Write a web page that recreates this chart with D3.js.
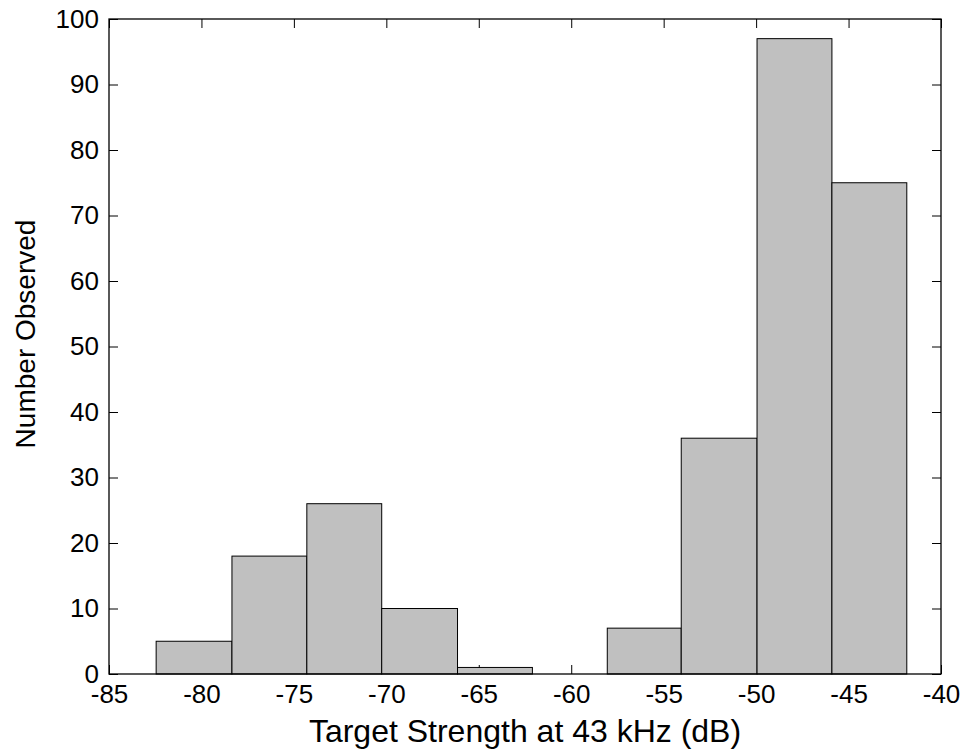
<!DOCTYPE html>
<html>
<head>
<meta charset="utf-8">
<script src="https://cdn.jsdelivr.net/npm/d3@7"></script>
<style>
body { margin: 0; background: #fff; }
text { font-family: Arial, "Liberation Sans", sans-serif; fill: #000; }
</style>
</head>
<body>
<svg id="mainSVG" width="964" height="750"></svg>
<script>
var $svg = d3.select("#mainSVG");

// histogram data
var binEdges = [-82.45, -78.35, -74.3, -70.25, -66.15, -62.1, -58.05, -54.05, -49.95, -45.9, -41.85];
var counts = [5, 18, 26, 10, 1, 0, 7, 36, 97, 75];
var xTicks = [-85, -80, -75, -70, -65, -60, -55, -50, -45, -40];
var yTicks = [0, 10, 20, 30, 40, 50, 60, 70, 80, 90, 100];
var xLabel = 'Target Strength at 43 kHz (dB)';
var yLabel = 'Number Observed';

var box = {left: 109, right: 941, top: 19, bottom: 674};
var tickLen = 9;

var x = d3.scaleLinear().domain([-85, -40]).range([box.left, box.right]);
var y = d3.scaleLinear().domain([0, 100]).range([box.bottom, box.top]);

var bins = counts.map((c,i)=>({x0: binEdges[i], x1: binEdges[i+1], n: c}));

// plain hyphen for negatives, like the original
const fmt = d=>String(d);

// ticks on all four sides, pointing in
var $ax = $svg.append('g').attr('id','axes');

$ax.append('g').attr('transform',`translate(0 ${box.bottom})`)
    .call(d3.axisBottom(x).tickValues(xTicks).tickSize(-tickLen).tickPadding(11).tickFormat(fmt))
    .call(g=>g.select('.domain').remove())
    .call(g=>g.selectAll('text').attr('font-size',26).attr('dy','0.71em'));
$ax.append('g').attr('transform',`translate(0 ${box.top})`)
    .call(d3.axisTop(x).tickValues(xTicks).tickSize(-tickLen).tickFormat(''))
    .call(g=>g.select('.domain').remove());
$ax.append('g').attr('transform',`translate(${box.left} 0)`)
    .call(d3.axisLeft(y).tickValues(yTicks).tickSize(-tickLen).tickPadding(10).tickFormat(fmt))
    .call(g=>g.select('.domain').remove())
    .call(g=>g.selectAll('text').attr('font-size',26));
$ax.append('g').attr('transform',`translate(${box.right} 0)`)
    .call(d3.axisRight(y).tickValues(yTicks).tickSize(-tickLen).tickFormat(''))
    .call(g=>g.select('.domain').remove());

$ax.selectAll('.tick line').attr('stroke','#000').attr('stroke-width',1);
$ax.selectAll('text').attr('font-family','Arial, "Liberation Sans", sans-serif').attr('fill','#000');

// bars
$svg.append('g').attr('id','bars')
    .selectAll('rect').data(bins)
    .enter().append('rect')
    .attr('x',d=>x(d.x0))
    .attr('y',d=>y(d.n))
    .attr('width',d=>x(d.x1)-x(d.x0))
    .attr('height',d=>y(0)-y(d.n))
    .attr('fill','#c0c0c0')
    .attr('stroke','#000')
    .attr('stroke-width',1);

// axes box
$svg.append('rect')
    .attr('x',box.left).attr('y',box.top)
    .attr('width',box.right-box.left).attr('height',box.bottom-box.top)
    .attr('fill','none').attr('stroke','#000').attr('stroke-width',1.3);

// labels
$svg.append('text')
    .attr('x',(box.left+box.right)/2).attr('y',742)
    .attr('text-anchor','middle').attr('font-size',32)
    .text(xLabel);

$svg.append('text')
    .attr('transform','translate(35 334) rotate(-90)')
    .attr('text-anchor','middle').attr('font-size',28)
    .text(yLabel);
</script>
</body>
</html>
